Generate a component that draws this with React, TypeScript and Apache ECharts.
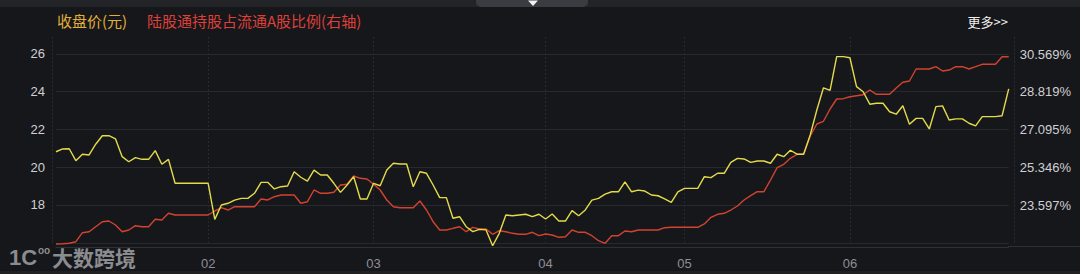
import React, { useEffect, useRef } from 'react';
import * as echarts from 'echarts';

// ---- data ----
const monthLabels = ['01', '02', '03', '04', '05', '06'];
const monthDays = [23, 25, 26, 21, 25, 25];

const legendNames = ['收盘价(元)', '陆股通持股占流通A股比例(右轴)'];

const priceData = [
  20.82, 20.97, 20.98, 20.35, 20.69, 20.65, 21.22, 21.67, 21.67, 21.5,
  20.56, 20.29, 20.51, 20.42, 20.42, 20.88, 20.16, 20.42, 19.15, 19.15,
  19.15, 19.15, 19.15, 19.15, 17.24, 18.0, 18.09, 18.26, 18.35, 18.35,
  18.62, 19.2, 19.2, 18.85, 18.97, 19.01, 19.76, 19.47, 19.27, 19.85,
  19.59, 19.59, 19.15, 18.67, 19.06, 19.5, 18.32, 18.32, 19.15, 19.02,
  19.85, 20.21, 20.17, 20.17, 18.97, 19.76, 19.68, 19.06, 18.39, 18.39,
  17.3, 17.38, 16.85, 16.59, 16.71, 16.68, 15.84, 16.5, 17.47, 17.43,
  17.47, 17.51, 17.38, 17.51, 17.26, 17.52, 17.15, 17.15, 17.7, 17.43,
  17.74, 18.26, 18.35, 18.58, 18.7, 18.7, 19.23, 18.7, 18.79, 18.74,
  18.53, 18.49, 18.32, 18.14, 18.7, 18.88, 18.88, 18.88, 19.5, 19.45,
  19.68, 19.68, 20.26, 20.47, 20.44, 20.26, 20.33, 20.33, 20.21, 20.69,
  20.56, 20.9, 20.69, 20.69, 21.71, 23.03, 24.21, 24.07, 25.86, 25.86,
  25.8, 24.27, 24.0, 23.34, 23.39, 23.39, 22.94, 22.81, 23.26, 22.28,
  22.59, 22.59, 22.03, 23.21, 23.25, 22.5, 22.56, 22.56, 22.33, 22.19,
  22.68, 22.68, 22.68, 22.73, 24.15,
];

const ratioData = [
  21.796, 21.81, 21.829, 21.902, 22.318, 22.364, 22.595, 22.826, 22.858, 22.674,
  22.364, 22.443, 22.641, 22.595, 22.595, 22.937, 22.904, 23.214, 23.135, 23.135,
  23.135, 23.135, 23.135, 23.135, 23.32, 23.472, 23.366, 23.518, 23.518, 23.518,
  23.518, 23.874, 23.828, 23.98, 24.059, 24.059, 24.059, 23.676, 23.749, 24.29,
  24.137, 24.137, 24.183, 24.52, 24.553, 24.936, 24.83, 24.797, 24.553, 24.29,
  23.828, 23.518, 23.472, 23.472, 23.472, 23.782, 23.366, 22.826, 22.443, 22.443,
  22.521, 22.595, 22.364, 22.567, 22.489, 22.489, 22.244, 22.41, 22.364, 22.29,
  22.244, 22.244, 22.337, 22.18, 22.258, 22.212, 22.106, 22.133, 22.443, 22.337,
  22.337, 22.18, 21.949, 21.829, 22.18, 22.18, 22.397, 22.364, 22.443, 22.443,
  22.443, 22.443, 22.549, 22.567, 22.567, 22.567, 22.567, 22.567, 22.72, 23.029,
  23.168, 23.214, 23.366, 23.551, 23.828, 24.026, 24.211, 24.211, 24.751, 25.319,
  25.476, 25.753, 25.938, 25.938, 26.783, 27.337, 27.462, 28.03, 28.491, 28.505,
  28.597, 28.644, 28.69, 28.907, 28.708, 28.708, 28.708, 28.999, 29.262, 29.322,
  29.876, 29.876, 29.876, 29.983, 29.784, 29.83, 29.983, 29.983, 29.876, 29.983,
  30.093, 30.093, 30.093, 30.444, 30.444,
];

const leftAxisRange = { min: 16, max: 26.9, interval: 2 };
const rightAxisRange = { min: 21.854, max: 31.354, interval: 1.743 };
const rightTickLabels = ['21.848%', '23.597%', '25.346%', '27.095%', '28.819%', '30.569%'];

// categories: month / trading-day index within month
const categories: string[] = [];
monthLabels.forEach((m, k) => {
  for (let d = 1; d <= monthDays[k]; d++) categories.push(`${m}/${d}`);
});
const isMonthStart = (i: number) =>
  i > 0 && categories[i].split('/')[0] !== categories[i - 1].split('/')[0];

const BG = '#16171b';
const GRID = '#27292e';
const NUM_FONT = 'Liberation Sans, Arial, sans-serif';
const CJK_FONT = 'Noto Sans CJK SC, sans-serif';

export default function App() {
  const ref = useRef<HTMLDivElement>(null);

  useEffect(() => {
    document.body.style.margin = '0';
    document.body.style.background = BG;
    if (!ref.current) return;
    const chart = echarts.init(ref.current, undefined, { renderer: 'svg' });

    const option: any = {
      animation: false,
      backgroundColor: BG,
      grid: { left: 56, right: 71.3, top: 37, bottom: 31.25, containLabel: false },
      xAxis: {
        type: 'category',
        data: categories,
        boundaryGap: false,
        offset: 4,
        axisLine: { show: true, lineStyle: { color: '#2e3035', width: 1 } },
        axisTick: { show: false },
        axisLabel: {
          interval: (i: number) => isMonthStart(i),
          formatter: (v: string) => v.split('/')[0],
          color: '#8e8f93',
          fontSize: 13,
          fontFamily: NUM_FONT,
          margin: 10,
        },
        splitLine: {
          show: true,
          interval: (i: number) => isMonthStart(i),
          lineStyle: { color: GRID, type: [2, 2], width: 1 },
        },
      },
      yAxis: [
        {
          type: 'value',
          min: leftAxisRange.min,
          max: leftAxisRange.max,
          interval: leftAxisRange.interval,
          position: 'left',
          offset: 4,
          axisLine: { show: true, lineStyle: { color: GRID, type: [2, 2] } },
          axisTick: { show: false },
          axisLabel: {
            color: '#d0d0d2',
            fontSize: 13,
            fontFamily: NUM_FONT,
            margin: 7,
            showMinLabel: false,
            showMaxLabel: false,
          },
          splitLine: {
            show: true,
            showMaxLine: false,
            lineStyle: { color: GRID, width: 1 },
          },
        },
        {
          type: 'value',
          min: rightAxisRange.min,
          max: rightAxisRange.max,
          interval: rightAxisRange.interval,
          position: 'right',
          offset: 6,
          axisLine: { show: true, lineStyle: { color: GRID, type: [2, 2] } },
          axisTick: { show: false },
          axisLabel: {
            color: '#d0d0d2',
            fontSize: 13,
            fontFamily: NUM_FONT,
            margin: 5,
            showMinLabel: false,
            showMaxLabel: false,
            formatter: (v: number) => {
              const k = Math.round((v - rightAxisRange.min) / rightAxisRange.interval);
              return rightTickLabels[k] ?? '';
            },
          },
          splitLine: { show: false },
        },
      ],
      series: [
        {
          name: legendNames[0],
          type: 'line',
          data: priceData,
          yAxisIndex: 0,
          showSymbol: false,
          symbol: 'none',
          clip: false,
          lineStyle: { color: '#e4db4b', width: 1.4 },
          z: 3,
        },
        {
          name: legendNames[1],
          type: 'line',
          data: ratioData,
          yAxisIndex: 1,
          showSymbol: false,
          symbol: 'none',
          clip: false,
          lineStyle: { color: '#d2432f', width: 1.4 },
          z: 2,
        },
      ],
      graphic: [
        { type: 'rect', shape: { x: 0, y: 0, width: 1080, height: 7 }, style: { fill: '#232428' }, silent: true },
        { type: 'rect', shape: { x: 476, y: 0, width: 112, height: 7, r: [0, 0, 5, 5] }, style: { fill: '#3b3c41' }, silent: true },
        { type: 'polygon', shape: { points: [[528, 0.5], [538, 0.5], [533, 6]] }, style: { fill: '#f2f2f2' }, silent: true },
        { type: 'rect', shape: { x: 0, y: 271, width: 1080, height: 3 }, style: { fill: '#202125' }, silent: true },
        { type: 'line', shape: { x1: 1008, y1: 246.5, x2: 1080, y2: 246.5 }, style: { stroke: '#2e3035', lineWidth: 1 }, silent: true },
        {
          type: 'text', x: 57, y: 20.5,
          style: { text: legendNames[0], fill: '#e2ae3a', font: `15px ${CJK_FONT}`, verticalAlign: 'middle' },
        },
        {
          type: 'text', x: 147, y: 20.5,
          style: { text: legendNames[1], fill: '#de4039', font: `15px ${CJK_FONT}`, verticalAlign: 'middle' },
        },
        {
          type: 'text', x: 1008, y: 21.5,
          style: { text: '更多>>', fill: '#eeeeee', font: `13px ${CJK_FONT}`, align: 'right', verticalAlign: 'middle' },
        },
        {
          type: 'text', x: 9, y: 257,
          style: { text: '1C', fill: '#8b8c90', font: `bold 22px ${NUM_FONT}`, verticalAlign: 'middle' },
        },
        {
          type: 'text', x: 38, y: 250,
          style: { text: 'oo', fill: '#8b8c90', font: `bold 10px ${NUM_FONT}`, verticalAlign: 'middle' },
        },
        {
          type: 'text', x: 52, y: 256.5,
          style: { text: '大数跨境', fill: '#8b8c90', font: `bold 21px ${CJK_FONT}`, verticalAlign: 'middle' },
        },
      ],
    };

    chart.setOption(option);
    return () => chart.dispose();
  }, []);

  return <div ref={ref} style={{ width: 1080, height: 274, background: BG }} />;
}
